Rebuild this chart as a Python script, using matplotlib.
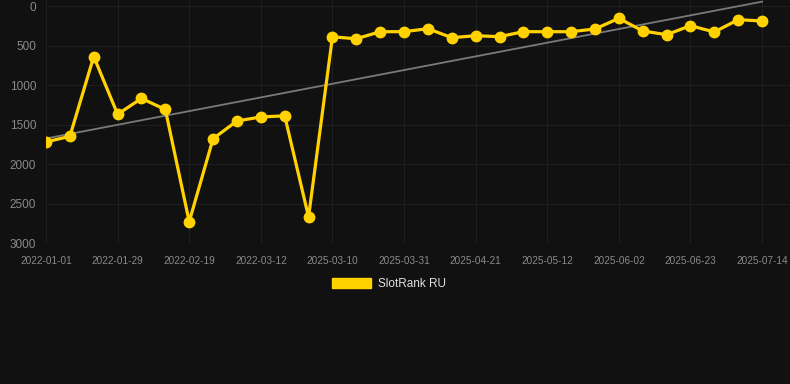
#SlotRank RU chart - weekly rank, inverted axis, with trend line

import matplotlib.pyplot as plt
from matplotlib.patches import Patch
import numpy as np

plt.rcParams['font.family'] = ['Liberation Sans', 'DejaVu Sans']

dates = ["2022-01-01", "2022-01-08", "2022-01-15", "2022-01-29", "2022-02-05", "2022-02-12",
         "2022-02-19", "2022-02-26", "2022-03-05", "2022-03-12", "2022-03-19", "2022-03-26",
         "2025-03-10", "2025-03-17", "2025-03-24", "2025-03-31", "2025-04-07", "2025-04-14",
         "2025-04-21", "2025-04-28", "2025-05-05", "2025-05-12", "2025-05-19", "2025-05-26",
         "2025-06-02", "2025-06-09", "2025-06-16", "2025-06-23", "2025-06-30", "2025-07-07",
         "2025-07-14"]
rank = [1720, 1650, 640, 1370, 1170, 1310, 2730, 1680, 1455, 1405, 1390, 2670,
        390, 415, 325, 325, 287, 401, 376, 388, 325, 325, 325, 291,
        156, 316, 363, 249, 329, 173, 190]
label = "SlotRank RU"

bg = "#111111"
gold = "#FFD200"
tickc = "#8a8a8a"
gridc = "#1f1f1f"

fig = plt.figure(figsize=(7.9, 3.84), dpi=100, facecolor=bg)
ax = fig.add_axes([46/790, 141/384, 744/790, 243/384], facecolor=bg)

x = np.arange(len(rank))
slope, icpt = np.polyfit(x, rank, 1)
ax.plot(x, slope*x + icpt, color="#7a7a7a", lw=1.3, zorder=2)
ax.plot(x, rank, color=gold, lw=2.3, marker="o", ms=7.5, zorder=3)

ax.set_xlim(0, 31.17)
ax.set_ylim(3000, -76)
ax.set_yticks([0, 500, 1000, 1500, 2000, 2500, 3000])
ax.set_xticks(x[::3])
ax.set_xticklabels(dates[::3])
ax.tick_params(axis="y", length=0, pad=7, labelsize=8.5, labelcolor=tickc)
ax.tick_params(axis="x", length=0, pad=9, labelsize=7.2, labelcolor=tickc)
ax.grid(True, color=gridc, lw=0.8)
for s in ax.spines.values():
    s.set_visible(False)

leg = fig.legend(handles=[Patch(facecolor=gold, edgecolor=gold)], labels=[label],
                 loc="center", bbox_to_anchor=(0.492, 0.26), frameon=False,
                 fontsize=8.5, handlelength=3.3, handleheight=0.95, handletextpad=0.6)
for t in leg.get_texts():
    t.set_color("#e0e0e0")

fig.savefig("out.png", dpi=100, facecolor=bg)
